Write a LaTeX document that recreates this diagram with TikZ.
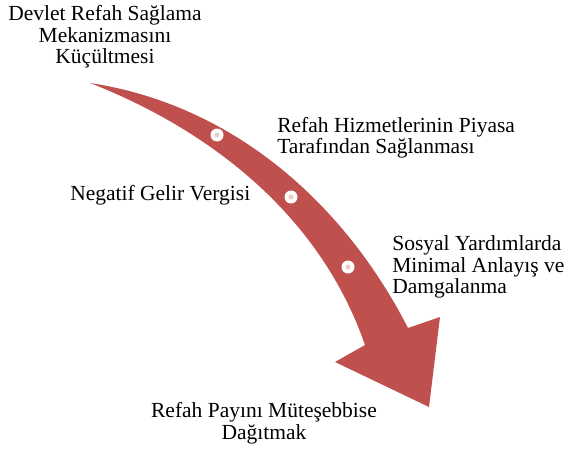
\documentclass[tikz,border=0pt]{standalone}
\usepackage{fontspec}
\setmainfont{Liberation Serif}
\usetikzlibrary{positioning}
\usetikzlibrary{calc}
\definecolor{refahred}{RGB}{192,80,77}

\begin{document}
\begin{tikzpicture}[x=1pt,y=-1pt,semithick]
		\tikzstyle{every node}=[font=\fontsize{21.5}{21.5}\selectfont,inner sep=0pt,text=black]
		\tikzstyle{stepdot}=[circle,fill=white,minimum size=13pt]
		\tikzstyle{stepcore}=[circle,fill=refahred!30,minimum size=5pt]
		
		\useasboundingbox (0,0) rectangle (565,450);
		
		\coordinate (tail)  at (90,83);
		\coordinate (rin)   at (408,328);
		\coordinate (rbarb) at (440,317);
		\coordinate (tip)   at (429,407);
		\coordinate (lbarb) at (335,362);
		\coordinate (lin)   at (365,345);
		
		\fill[refahred] (tail) .. controls (235,105) and (345,205) .. (rin) -- (rbarb) -- (tip)
		-- (lbarb) -- (lin) .. controls (320,215) and (210,130) .. (tail) -- cycle;
		
		\node[stepdot]  (d1) at (217,135) {};
		\node[stepdot]  (d2) at (291,197) {};
		\node[stepdot]  (d3) at (348,267) {};
		\node[stepcore] at (d1) {};
		\node[stepcore] at (d2) {};
		\node[stepcore] at (d3) {};
		
		\node[anchor=north,align=center]      (kucul)   at (105,5.3)  {Devlet Refah Sağlama\\Mekanizmasını\\Küçültmesi};
		\node[anchor=north west,align=left]   (piyasa)  at (277,117)  {Refah Hizmetlerinin Piyasa\\Tarafından Sağlanması};
		\node[anchor=north west]              (vergi)   at (70,185.3) {Negatif Gelir Vergisi};
		\node[anchor=north west,align=left]   (sosyal)  at (392,235.3){Sosyal Yardımlarda\\Minimal Anlayış ve\\Damgalanma};
		\node[anchor=north,align=center]      (tesebbus) at (264,402.3) {Refah Payını Müteşebbise\\Dağıtmak};
		
\end{tikzpicture}
\end{document}
